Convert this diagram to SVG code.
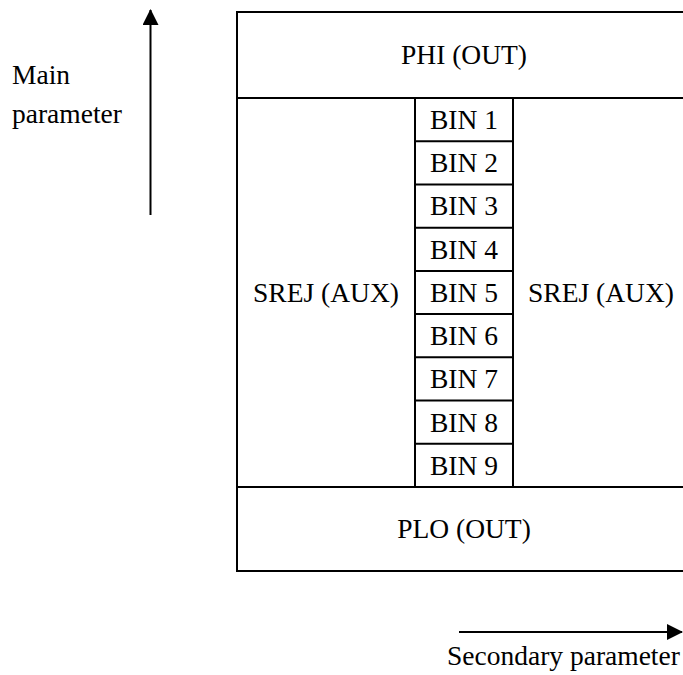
<svg xmlns="http://www.w3.org/2000/svg" width="683" height="675" viewBox="0 0 683 675">
<style>
text{font-family:'Liberation Serif','Times New Roman',serif;font-size:27.5px;fill:#000}
.c{text-anchor:middle}
.b{fill:none;stroke:#000;stroke-width:2}
</style>
<defs>
<marker id="ah" markerWidth="8" markerHeight="8" refX="7.5" refY="4" orient="auto" markerUnits="strokeWidth">
<path d="M0,0 L8,4 L0,8 z" fill="#000"/>
</marker>
</defs>
<rect width="683" height="675" fill="#fff"/>
<g font-family="Liberation Serif, serif" font-size="27.5">
<g id="outer"><rect class="b" x="237" y="12" width="455" height="559"/></g>
<g id="phi"><line class="b" x1="237" y1="98" x2="692" y2="98"/><text class="c" x="464" y="64">PHI (OUT)</text></g>
<g id="plo"><line class="b" x1="237" y1="487" x2="692" y2="487"/><text class="c" x="464" y="538">PLO (OUT)</text></g>
<g id="srej-left"><text class="c" x="326" y="302">SREJ (AUX)</text></g>
<g id="srej-right"><text class="c" x="601" y="302">SREJ (AUX)</text></g>
<g id="bins">
<rect class="b" x="415" y="98" width="98" height="389"/>
<line class="b" x1="415" y1="141.2" x2="513" y2="141.2"/>
<line class="b" x1="415" y1="184.4" x2="513" y2="184.4"/>
<line class="b" x1="415" y1="227.7" x2="513" y2="227.7"/>
<line class="b" x1="415" y1="270.9" x2="513" y2="270.9"/>
<line class="b" x1="415" y1="314.1" x2="513" y2="314.1"/>
<line class="b" x1="415" y1="357.3" x2="513" y2="357.3"/>
<line class="b" x1="415" y1="400.6" x2="513" y2="400.6"/>
<line class="b" x1="415" y1="443.8" x2="513" y2="443.8"/>
<text class="c" x="464" y="129">BIN 1</text>
<text class="c" x="464" y="172.2">BIN 2</text>
<text class="c" x="464" y="215.4">BIN 3</text>
<text class="c" x="464" y="258.7">BIN 4</text>
<text class="c" x="464" y="301.9">BIN 5</text>
<text class="c" x="464" y="345.1">BIN 6</text>
<text class="c" x="464" y="388.3">BIN 7</text>
<text class="c" x="464" y="431.6">BIN 8</text>
<text class="c" x="464" y="474.8">BIN 9</text>
</g>
<g id="connectors">
<line x1="150.5" y1="215" x2="150.5" y2="10" stroke="#000" stroke-width="2" marker-end="url(#ah)"/>
<line x1="459" y1="632" x2="682" y2="632" stroke="#000" stroke-width="2" marker-end="url(#ah)"/>
</g>
<g id="labels">
<text x="12" y="84">Main</text>
<text x="12" y="123">parameter</text>
<text x="447" y="665">Secondary parameter</text>
</g>
</g>
</svg>
